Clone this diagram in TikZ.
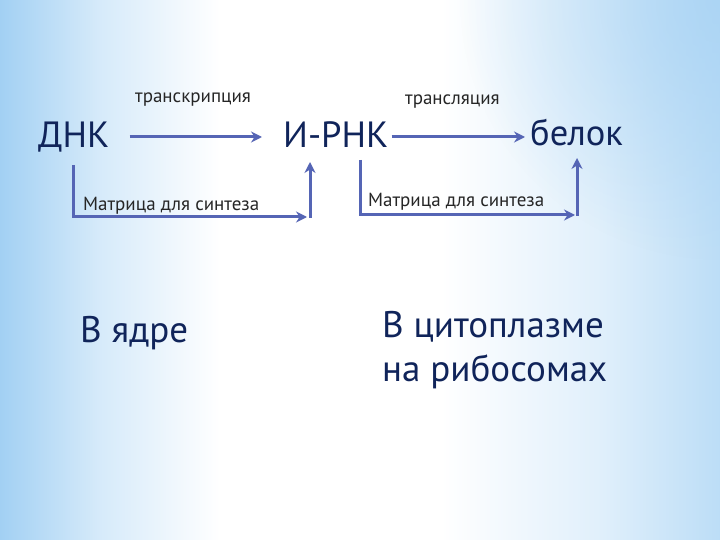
\documentclass[tikz,border=0pt]{standalone}
\usepackage{fontspec}
\setmainfont{PT Sans}
\usetikzlibrary{calc,arrows.meta,fadings}
\definecolor{navy}{HTML}{10245A}
\definecolor{arrc}{HTML}{5565B5}
\definecolor{bgblue}{HTML}{98CBF2}
\pgfdeclarehorizontalshading{bgh}{100bp}{%
  color(0bp)=(bgblue); color(25bp)=(bgblue!90!white); color(31.9bp)=(bgblue!40!white); color(40.3bp)=(white);
  color(55.6bp)=(white); color(66.7bp)=(bgblue!30!white); color(75bp)=(bgblue!65!white); color(100bp)=(bgblue!65!white)}
\tikzfading[name=bandfade, top color=transparent!100, middle color=transparent!20, bottom color=transparent!100]
\tikzfading[name=cornerfade, inner color=transparent!0, outer color=transparent!100]
\tikzset{
  big/.style={font=\fontsize{36.5}{40}\selectfont, text=navy, inner sep=0pt},
  mid/.style={font=\fontsize{37}{40}\selectfont, text=navy, inner sep=0pt},
  small/.style={font=\fontsize{19}{22}\selectfont, text=black!85, inner sep=0pt},
  arr/.style={draw=arrc, line width=3pt, -{Stealth[length=11pt,width=11pt]}}
}
\begin{document}
\begin{tikzpicture}[x=1pt,y=-1pt]
\useasboundingbox (0,0) rectangle (720,540);
\begin{scope}
\clip (0,0) rectangle (720,540);
\shade[shading=bgh] (0,0) rectangle (720,540);
\fill[bgblue!85!white, path fading=cornerfade, opacity=0.8] (720,0) circle (260);
\fill[white, path fading=bandfade] (0,350) rectangle (720,420);
\fill[white, path fading=bandfade] (0,470) rectangle (720,560);
\end{scope}

\node[big, anchor=base west] (dna) at (38,148) {ДНК};
\node[big, anchor=base west] (mrna) at (283,148) {И-РНК};
\node[big, anchor=base west] (prot) at (530,146) {белок};

\node[small, anchor=base west] (t1) at (135,103) {транскрипция};
\node[small, anchor=base west] (t2) at (405,105) {трансляция};
\node[small, anchor=base west] (m1) at (83,211) {Матрица для синтеза};
\node[small, anchor=base west] (m2) at (368,207) {Матрица для синтеза};

\node[mid, anchor=base west] (nuc) at (80,342) {В ядре};
\node[mid, anchor=base west] (cyt) at (382,337) {В цитоплазме};
\node[mid, anchor=base west] (rib) at (382,381) {на рибосомах};

\coordinate (c1) at (307,217);
\coordinate (c1b) at (310,218);
\coordinate (c2) at (575,215);
\coordinate (c2b) at (577,216);

% main arrows
\draw[arr] ($(dna.base east)+(20,-11)$) -- ($(mrna.base west)+(-21,-11)$);
\draw[arr] ($(mrna.base east)+(3,-11)$) -- ($(prot.base west)+(-5,-9)$);

% L connectors
\draw[arr] ($(dna.south)+(0,12)$) |- (c1);
\draw[arr] (c1b) -- ($(c1b |- mrna.base)+(0,14)$);
\draw[arr] ($(mrna.base west)+(77,12)$) |- (c2);
\draw[arr] (c2b) -- ($(c2b |- prot.base)+(0,12)$);
\end{tikzpicture}
\end{document}
